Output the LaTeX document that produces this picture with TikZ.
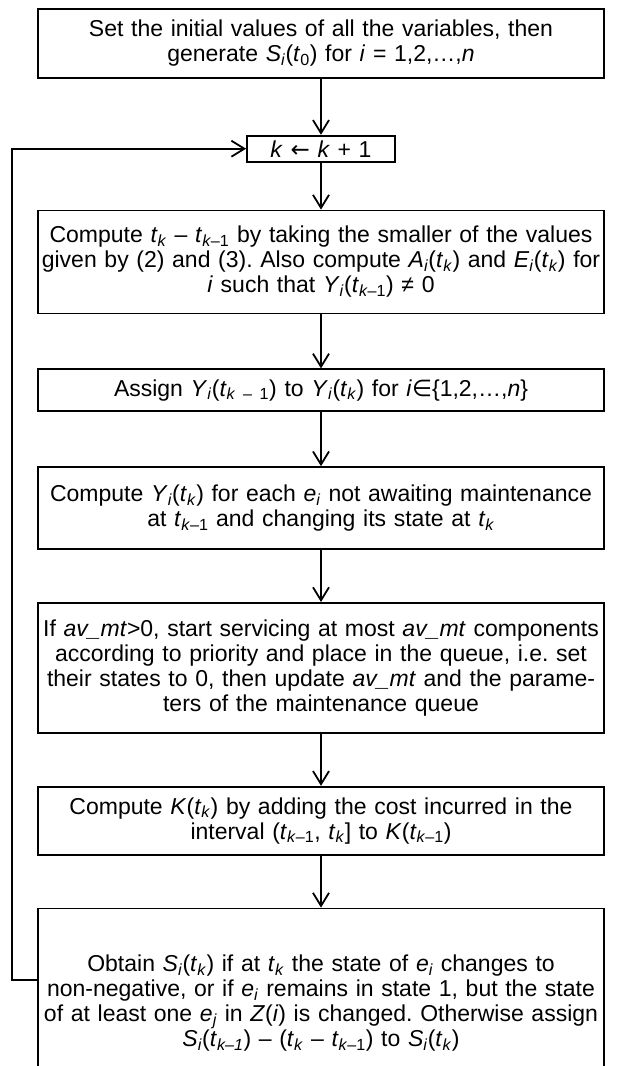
\documentclass[tikz,border=0pt]{standalone}
\usepackage{fontspec}
\setmainfont{Liberation Sans}
\newfontfamily\symfont{DejaVu Sans}
\usetikzlibrary{positioning,arrows.meta}
\newcommand{\vi}[1]{\textit{#1}}
\newcommand{\lo}[1]{\textsubscript{#1}}
\frenchspacing

\begin{document}
\begin{tikzpicture}[x=1pt, y=-1pt, node distance=53pt,
    every node/.style={font=\fontsize{23}{25}\selectfont},
    stepbox/.style={draw, line width=1.8pt, text width=564pt, align=center, inner xsep=1pt, inner ysep=4pt},
    flow/.style={-{Straight Barb[length=13pt,width=16pt]}, line width=1.8pt}]
    \useasboundingbox (0,0) rectangle (624,1066);
    \clip (0,0) rectangle (624,1066);
    \node (init) [stepbox, minimum height=69pt, anchor=north] at (321,8) {Set the initial values of all the variables, then\\ generate \vi{S}\lo{\vi{i}}(\vi{t}\lo{0}) for \vi{i} = 1,2,…,\vi{n}};
    \node (inc) [stepbox, text width=146pt, minimum height=26pt, below=56pt of init] {\vi{k} {\symfont←} \vi{k} + 1};
    \node (tk) [stepbox, minimum height=103pt, below=47pt of inc] {Compute \vi{t}\lo{\vi{k}} – \vi{t}\lo{\vi{k}–1} by taking the smaller of the values\\ given by (2) and (3). Also compute \vi{A}\lo{\vi{i}}(\vi{t}\lo{\vi{k}}) and \vi{E}\lo{\vi{i}}(\vi{t}\lo{\vi{k}}) for\\ \vi{i} such that \vi{Y}\lo{\vi{i}}(\vi{t}\lo{\vi{k}–1}) ≠ 0};
    \node (assign) [stepbox, minimum height=42pt, below=54pt of tk] {Assign \vi{Y}\lo{\vi{i}}(\vi{t}\lo{\vi{k} – 1}) to \vi{Y}\lo{\vi{i}}(\vi{t}\lo{\vi{k}}) for \vi{i}{\symfont∈}\{1,2,…,\vi{n}\}};
    \node (yi) [stepbox, minimum height=82pt, below=54pt of assign] {Compute \vi{Y}\lo{\vi{i}}(\vi{t}\lo{\vi{k}}) for each \vi{e}\lo{\vi{i}} not awaiting maintenance\\ at \vi{t}\lo{\vi{k}–1} and changing its state at \vi{t}\lo{\vi{k}}};
    \node (serv) [stepbox, minimum height=130pt, below=52pt of yi] {If \vi{av\_mt}>0, start servicing at most \vi{av\_mt} components\\ according to priority and place in the queue, i.e. set\\ their states to 0, then update \vi{av\_mt} and the parame-\\ ters of the maintenance queue};
    \node (cost) [stepbox, minimum height=68pt, below=52pt of serv] {Compute \vi{K}(\vi{t}\lo{\vi{k}}) by adding the cost incurred in the\\ interval (\vi{t}\lo{\vi{k}–1}, \vi{t}\lo{\vi{k}}] to \vi{K}(\vi{t}\lo{\vi{k}–1})};
    \node (si) [stepbox, minimum height=190pt, below=52pt of cost] {Obtain \vi{S}\lo{\vi{i}}(\vi{t}\lo{\vi{k}}) if at \vi{t}\lo{\vi{k}} the state of \vi{e}\lo{\vi{i}} changes to\\ non-negative, or if \vi{e}\lo{\vi{i}} remains in state 1, but the state\\ of at least one \vi{e}\lo{\vi{j}} in \vi{Z}(\vi{i}) is changed. Otherwise assign\\ \vi{S}\lo{\vi{i}}(\vi{t}\lo{\vi{k–1}}) – (\vi{t}\lo{\vi{k}} – \vi{t}\lo{\vi{k}–1}) to \vi{S}\lo{\vi{i}}(\vi{t}\lo{\vi{k}})};
    \draw[flow] (init) -- (inc);
    \draw[flow] (inc) -- (tk);
    \draw[flow] (tk) -- (assign);
    \draw[flow] (assign) -- (yi);
    \draw[flow] (yi) -- (serv);
    \draw[flow] (serv) -- (cost);
    \draw[flow] (cost) -- (si);
    % back to the counter
    \draw[flow] ([yshift=-72pt]si.north west) -- ++(-25,0) |- (inc.west);
\end{tikzpicture}
\end{document}
